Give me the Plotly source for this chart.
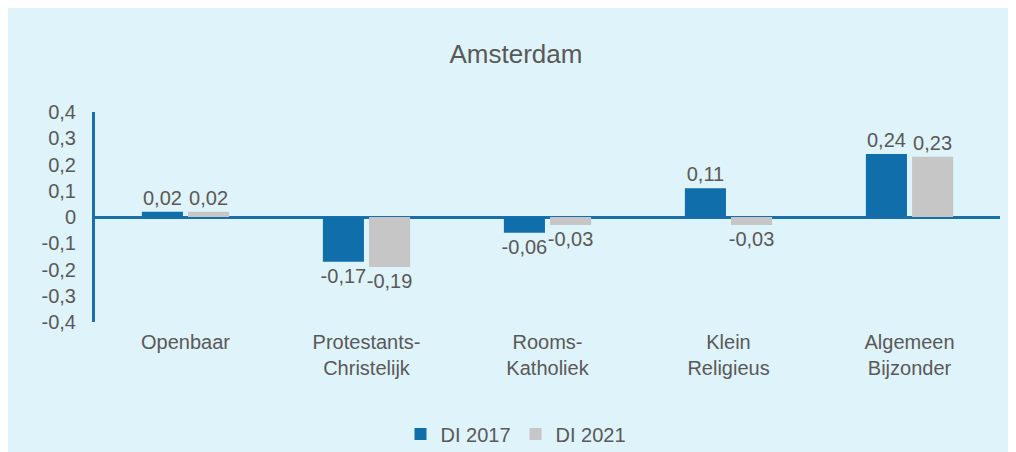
import plotly.graph_objects as go

categories = ["Openbaar", "Protestants-<br>Christelijk", "Rooms-<br>Katholiek", "Klein<br>Religieus", "Algemeen<br>Bijzonder"]
di_2017 = [0.02, -0.17, -0.06, 0.11, 0.24]
di_2021 = [0.02, -0.19, -0.03, -0.03, 0.23]
y_ticks = [0.4, 0.3, 0.2, 0.1, 0, -0.1, -0.2, -0.3, -0.4]
y_tick_labels = ["0,4", "0,3", "0,2", "0,1", "0", "-0,1", "-0,2", "-0,3", "-0,4"]

TEXT = "#595959"
FONT = "Liberation Sans, Arial, sans-serif"


def fmt(v):
    return f"{v:.2f}".replace(".", ",")


fig = go.Figure()
fig.add_trace(go.Bar(name="DI 2017", x=categories, y=di_2017, marker_color="#106EAB",
                     text=[fmt(v) for v in di_2017], textposition="outside", cliponaxis=False))
fig.add_trace(go.Bar(name="DI 2021", x=categories, y=di_2021, marker_color="#C6C6C6",
                     text=[fmt(v) for v in di_2021], textposition="outside", cliponaxis=False))
fig.update_traces(textfont=dict(size=20, color=TEXT, family=FONT), marker_line_width=0,
                  constraintext="none")

# page has an 8px body margin, so positions below are in figure pixels
fig.update_layout(
    width=1016, height=452,
    margin=dict(l=87, r=24, t=104, b=138, autoexpand=False),
    paper_bgcolor="#DFF3FA", plot_bgcolor="rgba(0,0,0,0)",
    font=dict(family=FONT, size=20, color=TEXT),
    separators=",.",
    barmode="group", bargap=0.49, bargroupgap=0.11,
    title=dict(text="Amsterdam", x=508 / 1016, xref="container", xanchor="center",
               y=1 - 46 / 452, yref="container", yanchor="middle",
               font=dict(size=26, color=TEXT, family=FONT)),
    legend=dict(orientation="h", x=508 / 1016, xref="container", xanchor="center",
                y=1 - 426 / 452, yref="container", yanchor="middle",
                bgcolor="rgba(0,0,0,0)",
                font=dict(size=20, color=TEXT), traceorder="normal"),
    showlegend=True,
)
fig.update_yaxes(range=[-0.4, 0.4], tickvals=y_ticks, ticktext=y_tick_labels,
                 showgrid=False, showline=True, linecolor="#1A6FAB", linewidth=3,
                 zeroline=True, zerolinecolor="#1A6FAB", zerolinewidth=3,
                 ticks="", ticklabelstandoff=12, automargin=False)
fig.update_xaxes(showgrid=False, showline=False, ticks="", tickangle=0,
                 ticklabelstandoff=6, automargin=False)

fig.write_html("out.html")
